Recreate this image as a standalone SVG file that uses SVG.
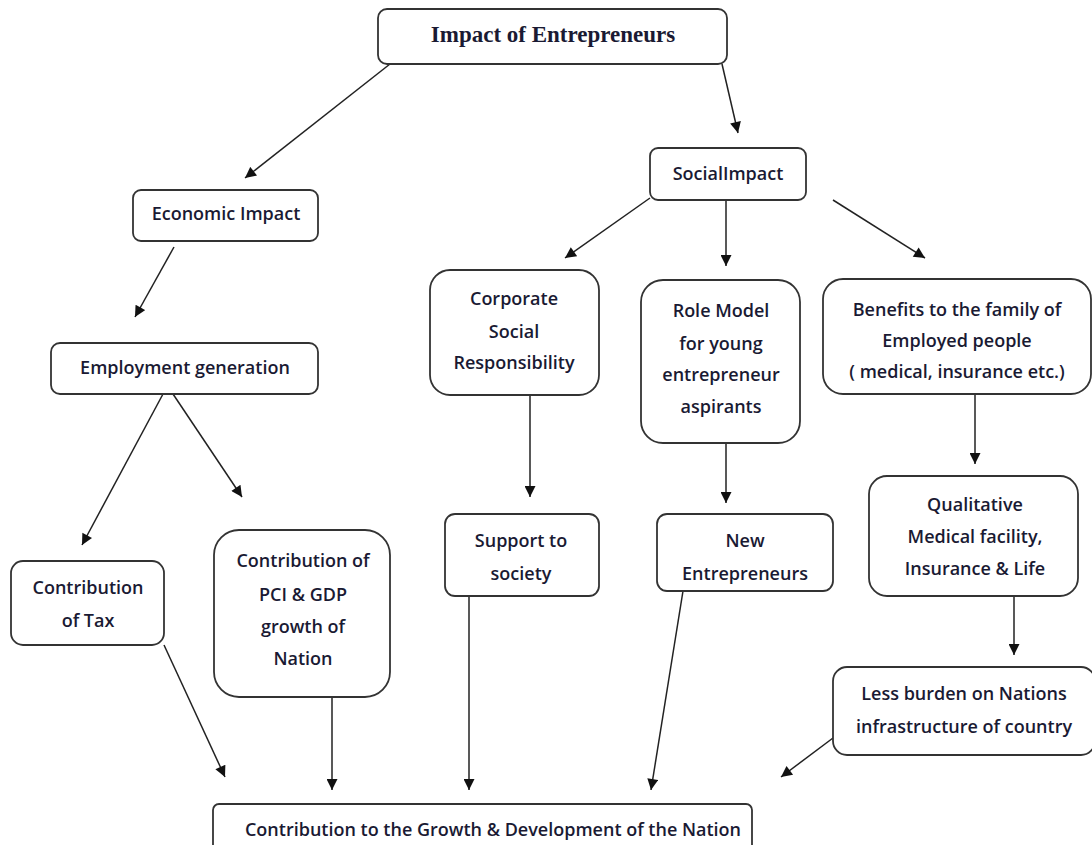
<svg xmlns="http://www.w3.org/2000/svg" width="1092" height="845" viewBox="0 0 1092 845">
<defs>
<marker id="ah" viewBox="0 0 10 10" refX="10" refY="5" markerWidth="12" markerHeight="11" markerUnits="userSpaceOnUse" orient="auto">
<path d="M0,0 L10,5 L0,10 z" fill="#111"/>
</marker>
<style>
.box{fill:#fff;stroke:#333;stroke-width:1.8}
.t{font-family:"Open Sans","Liberation Sans",sans-serif;font-size:18px;font-weight:600;fill:#1a1a33;text-anchor:middle}
.title{font-family:"Liberation Serif",serif;font-size:23px;font-weight:bold;fill:#1a1a33;text-anchor:middle}
.c{stroke:#222;stroke-width:1.5;fill:none;marker-end:url(#ah)}
</style>
</defs>
<rect width="1092" height="845" fill="#fff"/>
<g id="connectors">
<line class="c" x1="390" y1="64" x2="245" y2="178"/>
<line class="c" x1="722" y1="64" x2="738" y2="133"/>
<line class="c" x1="174" y1="247" x2="135" y2="317"/>
<line class="c" x1="650" y1="198" x2="565" y2="258"/>
<line class="c" x1="726" y1="200" x2="726" y2="266"/>
<line class="c" x1="833" y1="200" x2="925" y2="258"/>
<line class="c" x1="163" y1="394" x2="82" y2="545"/>
<line class="c" x1="173" y1="394" x2="242" y2="497"/>
<line class="c" x1="530" y1="395" x2="530" y2="497"/>
<line class="c" x1="726" y1="443" x2="726" y2="503"/>
<line class="c" x1="975" y1="394" x2="975" y2="464"/>
<line class="c" x1="1014" y1="596" x2="1014" y2="655"/>
<line class="c" x1="164" y1="645" x2="225" y2="777"/>
<line class="c" x1="332" y1="697" x2="332" y2="790"/>
<line class="c" x1="469" y1="596" x2="469" y2="790"/>
<line class="c" x1="683" y1="591" x2="651" y2="790"/>
<line class="c" x1="833" y1="738" x2="781" y2="777"/>
</g>
<g id="n-title"><rect class="box" x="378" y="9" width="349" height="55" rx="9"/><text class="title" x="553" y="42">Impact of Entrepreneurs</text></g>
<g id="n-social"><rect class="box" x="650" y="148" width="156" height="52" rx="8"/><text class="t" x="728" y="180">SocialImpact</text></g>
<g id="n-economic"><rect class="box" x="133" y="190" width="185" height="51" rx="8"/><text class="t" x="226" y="220">Economic Impact</text></g>
<g id="n-employment"><rect class="box" x="51" y="343" width="267" height="51" rx="9"/><text class="t" x="185" y="374">Employment generation</text></g>
<g id="n-csr"><rect class="box" x="430" y="270" width="169" height="125" rx="20"/><text class="t" x="514" y="305">Corporate</text><text class="t" x="514" y="338">Social</text><text class="t" x="514" y="369">Responsibility</text></g>
<g id="n-rolemodel"><rect class="box" x="641" y="280" width="159" height="163" rx="22"/><text class="t" x="721" y="317">Role Model</text><text class="t" x="721" y="350">for young</text><text class="t" x="721" y="381">entrepreneur</text><text class="t" x="721" y="413">aspirants</text></g>
<g id="n-benefits"><rect class="box" x="823" y="279" width="268" height="115" rx="20"/><text class="t" x="957" y="316">Benefits to the family of</text><text class="t" x="957" y="347">Employed people</text><text class="t" x="957" y="378">( medical, insurance etc.)</text></g>
<g id="n-support"><rect class="box" x="445" y="514" width="154" height="82" rx="10"/><text class="t" x="521" y="547">Support to</text><text class="t" x="521" y="580">society</text></g>
<g id="n-newent"><rect class="box" x="657" y="514" width="176" height="77" rx="10"/><text class="t" x="745" y="547">New</text><text class="t" x="745" y="580">Entrepreneurs</text></g>
<g id="n-qualitative"><rect class="box" x="869" y="476" width="209" height="120" rx="18"/><text class="t" x="975" y="511">Qualitative</text><text class="t" x="975" y="543">Medical facility,</text><text class="t" x="975" y="575">Insurance  &amp; Life</text></g>
<g id="n-tax"><rect class="box" x="11" y="561" width="153" height="84" rx="12"/><text class="t" x="88" y="594">Contribution</text><text class="t" x="88" y="627">of Tax</text></g>
<g id="n-pci"><rect class="box" x="214" y="530" width="176" height="167" rx="25"/><text class="t" x="303" y="567">Contribution of</text><text class="t" x="303" y="601">PCI &amp; GDP</text><text class="t" x="303" y="633">growth of</text><text class="t" x="303" y="665">Nation</text></g>
<g id="n-less"><rect class="box" x="833" y="667" width="262" height="88" rx="14"/><text class="t" x="964" y="700">Less burden on Nations</text><text class="t" x="964" y="733">infrastructure of country</text></g>
<g id="n-bottom"><rect class="box" x="213" y="804" width="539" height="60" rx="6"/><text class="t" x="493" y="836">Contribution to the Growth &amp; Development of the Nation</text></g>
</svg>
